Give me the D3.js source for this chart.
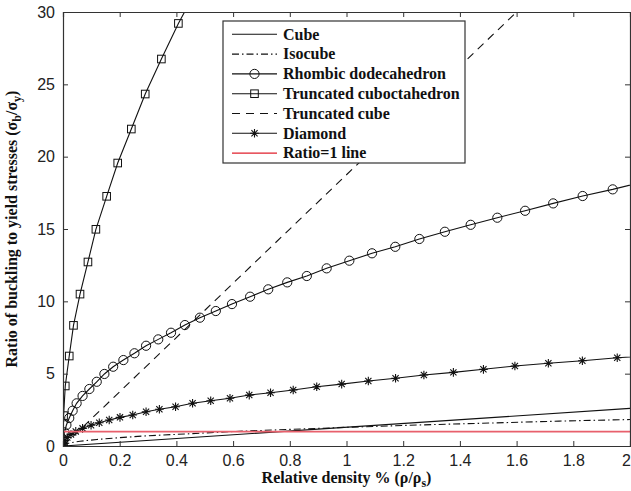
<!DOCTYPE html>
<html>
<head>
<meta charset="utf-8">
<script src="https://cdn.jsdelivr.net/npm/d3@7"></script>
<style>
  body { margin: 0; background: #fff; }
  svg { display: block; }
</style>
</head>
<body>
<svg></svg>
<script>
const width = 631, height = 491;

// values
const xTicks = [0, 0.2, 0.4, 0.6, 0.8, 1, 1.2, 1.4, 1.6, 1.8, 2];
const yTicks = [0, 5, 10, 15, 20, 25, 30];

const cube = [[0, 0], [2, 2.6]];
const isocube = [[0, 0], [0.01, 0.13], [0.025, 0.22], [0.06, 0.33], [0.12, 0.45], [0.2, 0.58], [0.3, 0.71],
    [0.44, 0.84], [0.6, 1.0], [0.8, 1.15], [1.0, 1.29], [1.25, 1.45], [1.53, 1.6], [1.75, 1.72], [2, 1.83]];
const rhombic = [[0, 0], [0.001, 0.45], [0.005, 0.95], [0.012, 1.45], [0.022, 1.93], [0.034, 2.44], [0.048, 2.95],
    [0.069, 3.46], [0.093, 3.94], [0.119, 4.44], [0.146, 4.98], [0.177, 5.48], [0.213, 5.94], [0.252, 6.41],
    [0.293, 6.93], [0.336, 7.37], [0.381, 7.83], [0.430, 8.36], [0.483, 8.87], [0.539, 9.33], [0.596, 9.81],
    [0.660, 10.32], [0.724, 10.83], [0.791, 11.31], [0.860, 11.75], [0.930, 12.28], [1.010, 12.81], [1.090, 13.32],
    [1.172, 13.77], [1.257, 14.31], [1.347, 14.81], [1.438, 15.29], [1.532, 15.78], [1.630, 16.26], [1.729, 16.77],
    [1.833, 17.28], [1.939, 17.74], [2.045, 18.25]];
const cuboct = [[0, 0], [0.002, 2.1], [0.008, 4.15], [0.022, 6.22], [0.037, 8.34], [0.060, 10.50], [0.088, 12.72],
    [0.116, 14.98], [0.154, 17.26], [0.193, 19.56], [0.241, 21.91], [0.290, 24.33], [0.347, 26.75], [0.407, 29.21],
    [0.47, 31.5]];
const truncCube = [[0, 0], [1.6, 30]];
const diamond = [[0, 0], [0.001, 0.17], [0.006, 0.38], [0.015, 0.59], [0.028, 0.80], [0.045, 1.01], [0.069, 1.22],
    [0.099, 1.43], [0.128, 1.61], [0.163, 1.80], [0.201, 1.98], [0.246, 2.14], [0.293, 2.37], [0.340, 2.54],
    [0.397, 2.71], [0.457, 2.95], [0.521, 3.13], [0.589, 3.30], [0.657, 3.52], [0.732, 3.68], [0.812, 3.87],
    [0.895, 4.10], [0.983, 4.28], [1.077, 4.49], [1.173, 4.68], [1.273, 4.91], [1.377, 5.09], [1.483, 5.30],
    [1.594, 5.53], [1.712, 5.72], [1.832, 5.89], [1.955, 6.10], [2.08, 6.25]];
const ratioLine = [[0, 1], [2, 1]];

const legendNames = ["Cube", "Isocube", "Rhombic dodecahedron", "Truncated cuboctahedron",
    "Truncated cube", "Diamond", "Ratio=1 line"];

const margin = {top: 12, left: 63, right: 1, bottom: 45};
const plotW = width - margin.left - margin.right,
    plotH = height - margin.top - margin.bottom;

const svg = d3.select("svg").attr("width", width).attr("height", height);

const x = d3.scaleLinear().domain([0, 2]).range([0, plotW]);
const y = d3.scaleLinear().domain([0, 30]).range([plotH, 0]);

const series = [
    {data: cube, dash: null, marker: null, color: "#111"},
    {data: isocube, dash: "7,3,1.5,3", marker: null, color: "#111"},
    {data: rhombic, dash: null, marker: "circle", color: "#111"},
    {data: cuboct, dash: null, marker: "square", color: "#111"},
    {data: truncCube, dash: "8,6", marker: null, color: "#111"},
    {data: diamond, dash: null, marker: "star", color: "#111"},
    {data: ratioLine, dash: null, marker: null, color: "#e8606c", red: true}
];

const g = svg.append("g").attr("transform", `translate(${margin.left},${margin.top})`);

g.append("clipPath").attr("id", "clip")
    .append("rect").attr("width", plotW).attr("height", plotH);

const plot = g.append("g").attr("clip-path", "url(#clip)");

const line = d3.line().x(d => x(d[0])).y(d => y(d[1]));

function drawMarker(sel, type) {
    if (type === "circle") {
        sel.append("circle").attr("r", 4.6).attr("fill", "none").attr("stroke", "#111").attr("stroke-width", 1);
    } else if (type === "square") {
        sel.append("rect").attr("x", -3.8).attr("y", -3.8).attr("width", 7.6).attr("height", 7.6)
            .attr("fill", "none").attr("stroke", "#111").attr("stroke-width", 1);
    } else if (type === "star") {
        const s = 4.3, t = 3.1;
        sel.append("path")
            .attr("d", `M${-s},0L${s},0M0,${-s}L0,${s}M${-t},${-t}L${t},${t}M${-t},${t}L${t},${-t}`)
            .attr("stroke", "#111").attr("stroke-width", 1.1).attr("fill", "none");
    }
}

series.forEach(s => {
    plot.append("path")
        .datum(s.data)
        .attr("d", line)
        .attr("fill", "none")
        .attr("stroke", s.color)
        .attr("stroke-width", s.red ? 1.8 : 1.1)
        .attr("stroke-dasharray", s.dash);
    if (s.marker) {
        plot.selectAll(null)
            .data(s.data)
            .enter()
            .append("g")
            .attr("transform", d => `translate(${x(d[0])},${y(d[1])})`)
            .each(function () { drawMarker(d3.select(this), s.marker); });
    }
});

// axes, matlab style: ticks inside on all four sides
const tickFont = "'Liberation Sans', Arial, sans-serif";
const xAxis = d3.axisBottom(x).tickValues(xTicks).tickSize(-5).tickPadding(9).tickFormat(d3.format("~g"));
const yAxis = d3.axisLeft(y).tickValues(yTicks).tickSize(-5).tickPadding(8);

const gx = g.append("g").attr("transform", `translate(0,${plotH})`).call(xAxis);
const gy = g.append("g").call(yAxis);
g.append("g").call(d3.axisTop(x).tickValues(xTicks).tickSize(-5).tickFormat(""));
g.append("g").attr("transform", `translate(${plotW},0)`).call(d3.axisRight(y).tickValues(yTicks).tickSize(-5).tickFormat(""));

g.selectAll(".domain").attr("stroke", "#333").attr("stroke-width", 1.2);
g.selectAll(".tick line").attr("stroke", "#333");
[gx, gy].forEach(a => a.selectAll("text")
    .attr("font-family", tickFont).attr("font-size", 16).attr("fill", "#222"));
// last x label sits on the window edge; pull it in so it stays readable
gx.selectAll(".tick text").filter(d => d === 2).attr("dx", -4);

// legend
const legend = g.append("g").attr("transform", `translate(${223 - margin.left},${21 - margin.top})`);
legend.append("rect")
    .attr("width", 242).attr("height", 142)
    .attr("fill", "#fff").attr("stroke", "#333").attr("stroke-width", 1.2);

legendNames.forEach((name, i) => {
    const s = series[i];
    const row = legend.append("g").attr("transform", `translate(0,${13.3 + i * 19.8})`);
    row.append("line")
        .attr("x1", 9).attr("x2", 54)
        .attr("stroke", s.red ? "#e0202c" : "#111")
        .attr("stroke-width", 1.1)
        .attr("stroke-dasharray", s.dash);
    if (s.marker) {
        drawMarker(row.append("g").attr("transform", "translate(31.5,0)"), s.marker);
    }
    row.append("text")
        .attr("x", 60).attr("dy", "0.33em")
        .attr("font-family", "'Liberation Serif', 'Times New Roman', serif")
        .attr("font-weight", "bold").attr("font-size", 16)
        .attr("fill", "#111")
        .text(name);
});

// axis titles
const serif = "'Liberation Serif', 'Times New Roman', serif";
const yLabel = svg.append("text")
    .attr("transform", `translate(17,${margin.top + plotH / 2}) rotate(-90)`)
    .attr("text-anchor", "middle")
    .attr("font-family", serif).attr("font-weight", "bold").attr("font-size", 16)
    .attr("fill", "#111");
yLabel.append("tspan").text("Ratio of buckling to yield stresses (σ");
yLabel.append("tspan").attr("dy", 4).attr("font-size", 12).text("b");
yLabel.append("tspan").attr("dy", -4).text("/σ");
yLabel.append("tspan").attr("dy", 4).attr("font-size", 12).text("y");
yLabel.append("tspan").attr("dy", -4).text(")");

const xLabel = svg.append("text")
    .attr("x", margin.left + plotW / 2).attr("y", 483)
    .attr("text-anchor", "middle")
    .attr("font-family", serif).attr("font-weight", "bold").attr("font-size", 16)
    .attr("fill", "#111");
xLabel.append("tspan").text("Relative density % (ρ/ρ");
xLabel.append("tspan").attr("dy", 4).attr("font-size", 12).text("s");
xLabel.append("tspan").attr("dy", -4).text(")");
</script>
</body>
</html>
